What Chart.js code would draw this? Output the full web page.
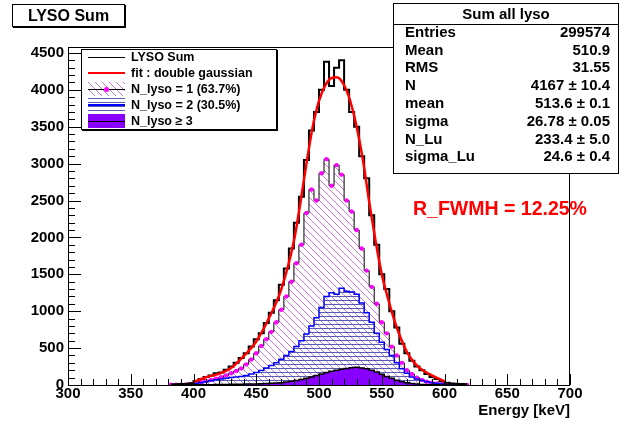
<!DOCTYPE html>
<html>
<head>
<meta charset="utf-8">
<script src="https://cdn.jsdelivr.net/npm/chart.js@4"></script>
<style>
body { margin: 0; background: #fff; font-family: 'Liberation Sans', Arial, sans-serif; font-weight: bold; }
#wrap { position: relative; width: 624px; height: 426px; overflow: hidden; }
#c { position: absolute; left: 0; top: 0; }
.box { position: absolute; background: #fff; border: 1px solid #000; box-sizing: border-box; }
#title { left: 12px; top: 4px; width: 113px; height: 23px; font-size: 16px; text-align: center; line-height: 21px; box-shadow: 1px 1px 0 #000; }
#stats { left: 393px; top: 3px; width: 226px; height: 171px; font-size: 15px; }
#stats .hd { position: absolute; left: 0; right: 0; top: 0; height: 20px; line-height: 20px; text-align: center; border-bottom: 1px solid #000; }
#stats .row { position: absolute; left: 11px; right: 8px; height: 18px; line-height: 18px; }
#stats .row .v { position: absolute; right: 0; top: 0; }
#legend { left: 81px; top: 49px; width: 196px; height: 81px; font-size: 12.5px; box-shadow: 1px 1px 0 #000; }
#legend .it { position: absolute; left: 6px; height: 16px; line-height: 16px; display: flex; align-items: center; white-space: nowrap; }
#legend canvas { margin-right: 6px; }
#fwhm { position: absolute; left: 413px; top: 197px; color: #f00; font-size: 19.5px; white-space: nowrap; }
</style>
</head>
<body>
<div id="wrap">
  <canvas id="c" width="624" height="426"></canvas>
  <div id="title" class="box">LYSO Sum</div>
  <div id="legend" class="box"></div>
  <div id="stats" class="box"><div class="hd">Sum all lyso</div></div>
  <div id="fwhm">R_FWMH = 12.25%</div>
</div>
<script>
// histogram bins: 4 keV wide, centres 382 ... 618
const binFirst = 382;
const binWidth = 4;
const energy = Array.from({ length: 60 }, (_, i) => binFirst + binWidth * i);

const lysoSum = [
  8, 10, 12, 15, 25, 55, 80, 110, 130, 160,
  170, 205, 250, 300, 365, 430, 520, 620, 700, 840,
  980, 1150, 1360, 1580, 1850, 2200, 2550, 3050, 3450, 3700,
  4000, 4380, 4050, 4300, 4400, 4000, 3700, 3500, 3100, 2800,
  2300, 1900, 1500, 1300, 1000, 780, 560, 430, 330, 250,
  200, 150, 110, 80, 50, 30, 20, 15, 12, 10
];
const nLyso1 = [
  3, 4, 5, 8, 12, 25, 40, 55, 70, 85,
  105, 130, 160, 190, 225, 280, 345, 430, 530, 620,
  720, 850, 1020, 1200, 1400, 1650, 1900, 2330, 2650, 2500,
  2870, 3060, 2700, 2980, 2850, 2500, 2350, 2100, 1850, 1550,
  1330, 1100, 850, 700, 520, 400, 300, 200, 150, 100,
  70, 45, 30, 20, 12, 8, 5, 3, 2, 1
];
const nLyso2 = [
  2, 3, 5, 8, 12, 20, 30, 45, 58, 70,
  80, 90, 100, 108, 115, 128, 148, 170, 195, 230,
  265, 300, 350, 400, 455, 520, 600, 690, 800, 910,
  1050, 1200, 1250, 1230, 1310, 1270, 1260, 1230, 1110, 980,
  850, 700, 580, 480, 400, 300, 220, 160, 110, 80,
  60, 45, 30, 20, 12, 8, 5, 3, 2, 1
];
const nLyso3 = [
  0, 0, 0, 0, 1, 2, 3, 4, 5, 6,
  7, 8, 9, 10, 11, 12, 13, 15, 17, 20,
  24, 27, 32, 40, 50, 62, 75, 90, 110, 130,
  150, 170, 185, 200, 215, 225, 235, 240, 232, 220,
  200, 175, 145, 115, 90, 65, 45, 30, 20, 12,
  8, 5, 3, 2, 1, 0, 0, 0, 0, 0
];

// double gaussian fit
const fitE = [400, 405, 410, 420, 430, 440, 450, 460, 470, 480, 485, 490, 495, 500, 505, 510, 514, 518, 522, 526, 530, 535, 540, 545, 550, 555, 560, 565, 570, 575, 580, 590, 600];
const fitN = [40, 75, 105, 150, 230, 390, 590, 900, 1300, 1950, 2450, 3000, 3500, 3850, 4060, 4160, 4170, 4120, 3990, 3780, 3500, 3050, 2480, 1960, 1500, 1170, 880, 640, 450, 320, 235, 130, 50];

const yTicks = [0, 500, 1000, 1500, 2000, 2500, 3000, 3500, 4000, 4500];
const xTicks = [300, 350, 400, 450, 500, 550, 600, 650, 700];

const legendLabels = ['LYSO Sum', 'fit : double gaussian', 'N_lyso = 1 (63.7%)', 'N_lyso = 2 (30.5%)', 'N_lyso \u2265 3'];
const statLabels = ['Entries', 'Mean', 'RMS', 'N', 'mean', 'sigma', 'N_Lu', 'sigma_Lu'];
const statValues = ['299574', '510.9', '31.55', '4167 \u00b1 10.4', '513.6 \u00b1 0.1', '26.78 \u00b1 0.05', '233.4 \u00b1 5.0', '24.6 \u00b1 0.4'];

const purple = '#8800ff';

function diagHatch(g) {
  const s = 7;
  const c = document.createElement('canvas');
  c.width = c.height = s;
  const p = c.getContext('2d');
  p.strokeStyle = '#cc77dd';
  p.lineWidth = 1;
  p.beginPath();
  p.moveTo(0, 0); p.lineTo(s, s);
  p.moveTo(-1, s - 1); p.lineTo(1, s + 1);
  p.moveTo(s - 1, -1); p.lineTo(s + 1, 1);
  p.stroke();
  return g.createPattern(c, 'repeat');
}
function horizHatch(g) {
  const c = document.createElement('canvas');
  c.width = 4; c.height = 4;
  const p = c.getContext('2d');
  p.fillStyle = '#5a5ab0';
  p.fillRect(0, 0, 4, 1);
  return g.createPattern(c, 'repeat');
}

// legend
const legend = document.getElementById('legend');
legendLabels.forEach((txt, i) => {
  const it = document.createElement('div');
  it.className = 'it';
  it.style.top = (-1 + i * 16) + 'px';
  const cv = document.createElement('canvas');
  cv.width = 37; cv.height = 14;
  it.appendChild(cv);
  it.appendChild(document.createTextNode(txt));
  legend.appendChild(it);
  const g = cv.getContext('2d');
  if (i === 0) {
    g.strokeStyle = '#000'; g.lineWidth = 1;
    g.beginPath(); g.moveTo(0, 7.5); g.lineTo(37, 7.5); g.stroke();
  } else if (i === 1) {
    g.strokeStyle = '#f00'; g.lineWidth = 2;
    g.beginPath(); g.moveTo(0, 7); g.lineTo(37, 7); g.stroke();
  } else if (i === 2) {
    g.fillStyle = diagHatch(g); g.fillRect(0, 0, 37, 14);
    g.strokeStyle = '#000'; g.lineWidth = 1;
    g.beginPath(); g.moveTo(0, 7.5); g.lineTo(37, 7.5); g.stroke();
    g.fillStyle = '#ff00ff';
    g.beginPath(); g.arc(18.5, 7.5, 2.5, 0, Math.PI * 2); g.fill();
  } else if (i === 3) {
    g.fillStyle = horizHatch(g); g.fillRect(0, 0, 37, 14);
    g.strokeStyle = '#0000ff'; g.lineWidth = 2;
    g.beginPath(); g.moveTo(0, 7); g.lineTo(37, 7); g.stroke();
  } else {
    g.fillStyle = purple; g.fillRect(0, 0, 37, 14);
    g.strokeStyle = '#000'; g.lineWidth = 1;
    g.beginPath(); g.moveTo(0, 7.5); g.lineTo(37, 7.5); g.stroke();
  }
});

// stats box
const stats = document.getElementById('stats');
statLabels.forEach((lab, i) => {
  const r = document.createElement('div');
  r.className = 'row';
  r.style.top = (18.8 + i * 17.8) + 'px';
  r.innerHTML = '<span></span><span class="v"></span>';
  r.children[0].textContent = lab;
  r.children[1].textContent = statValues[i];
  stats.appendChild(r);
});

// ROOT-like frame with inner ticks
const rootFrame = {
  id: 'rootFrame',
  afterDatasetsDraw(chart) {
    const { ctx, chartArea: a, scales: { x, y } } = chart;
    ctx.save();
    ctx.strokeStyle = '#000';
    ctx.lineWidth = 1;
    ctx.strokeRect(a.left + 0.5, a.top + 0.5, a.right - a.left - 1, a.bottom - a.top);
    ctx.beginPath();
    for (let v = 300; v <= 700; v += 10) {
      const px = Math.round(x.getPixelForValue(v)) + 0.5;
      const len = v % 50 === 0 ? 11 : 6;
      ctx.moveTo(px, a.bottom); ctx.lineTo(px, a.bottom - len);
    }
    for (let v = 0; v <= 4500; v += 100) {
      const py = Math.round(y.getPixelForValue(v)) + 0.5;
      const len = v % 500 === 0 ? 13 : 7;
      ctx.moveTo(a.left, py); ctx.lineTo(a.left + len, py);
    }
    ctx.stroke();
    ctx.restore();
  }
};

const ctx = document.getElementById('c').getContext('2d');
const toXY = vals => energy.map((e, i) => ({ x: e, y: vals[i] }));
const tickFont = { family: 'Liberation Sans', size: 15, weight: 'bold' };

new Chart(ctx, {
  type: 'line',
  data: {
    datasets: [
      {
        label: legendLabels[1],
        data: fitE.map((e, i) => ({ x: e, y: fitN[i] })),
        borderColor: '#ff0000',
        borderWidth: 2.5,
        pointRadius: 0,
        cubicInterpolationMode: 'monotone',
        fill: false,
        order: 1
      },
      {
        label: legendLabels[0],
        data: toXY(lysoSum),
        stepped: 'middle',
        borderColor: '#000',
        borderWidth: 2,
        pointRadius: 0,
        fill: false,
        order: 2
      },
      {
        label: legendLabels[4],
        data: toXY(nLyso3),
        stepped: 'middle',
        borderColor: '#000',
        borderWidth: 1.5,
        backgroundColor: purple,
        fill: 'origin',
        pointRadius: 0,
        order: 3
      },
      {
        label: legendLabels[3],
        data: toXY(nLyso2),
        stepped: 'middle',
        borderColor: '#0000ff',
        borderWidth: 1.5,
        backgroundColor: horizHatch(ctx),
        fill: 'origin',
        pointRadius: 0,
        order: 4
      },
      {
        label: legendLabels[2],
        data: toXY(nLyso1),
        stepped: 'middle',
        borderColor: '#000',
        borderWidth: 1,
        backgroundColor: diagHatch(ctx),
        fill: 'origin',
        pointRadius: 2.2,
        pointBorderWidth: 0,
        pointBackgroundColor: '#ff00ff',
        order: 5
      }
    ]
  },
  options: {
    responsive: false,
    animation: false,
    devicePixelRatio: 1,
    layout: { padding: { left: 0, top: 47, right: 54, bottom: 0 } },
    plugins: { legend: { display: false }, tooltip: { enabled: false } },
    scales: {
      x: {
        type: 'linear',
        min: 300,
        max: 700,
        grid: { display: false, drawTicks: false },
        border: { display: false },
        ticks: { autoSkip: false, color: '#000', font: tickFont, padding: 0, maxRotation: 0, callback: v => v },
        afterBuildTicks: s => { s.ticks = xTicks.map(v => ({ value: v })); },
        title: { display: true, text: 'Energy [keV]', align: 'end', color: '#000', font: tickFont, padding: { top: 0, bottom: 6 } },
        afterFit: s => { s.height = 41; }
      },
      y: {
        type: 'linear',
        min: 0,
        max: 4580,
        grid: { display: false, drawTicks: false },
        border: { display: false },
        ticks: { autoSkip: false, color: '#000', font: tickFont, padding: 4, callback: v => v },
        afterBuildTicks: s => { s.ticks = yTicks.map(v => ({ value: v })); },
        afterFit: s => { s.width = 68; }
      }
    }
  },
  plugins: [rootFrame]
});
</script>
</body>
</html>
